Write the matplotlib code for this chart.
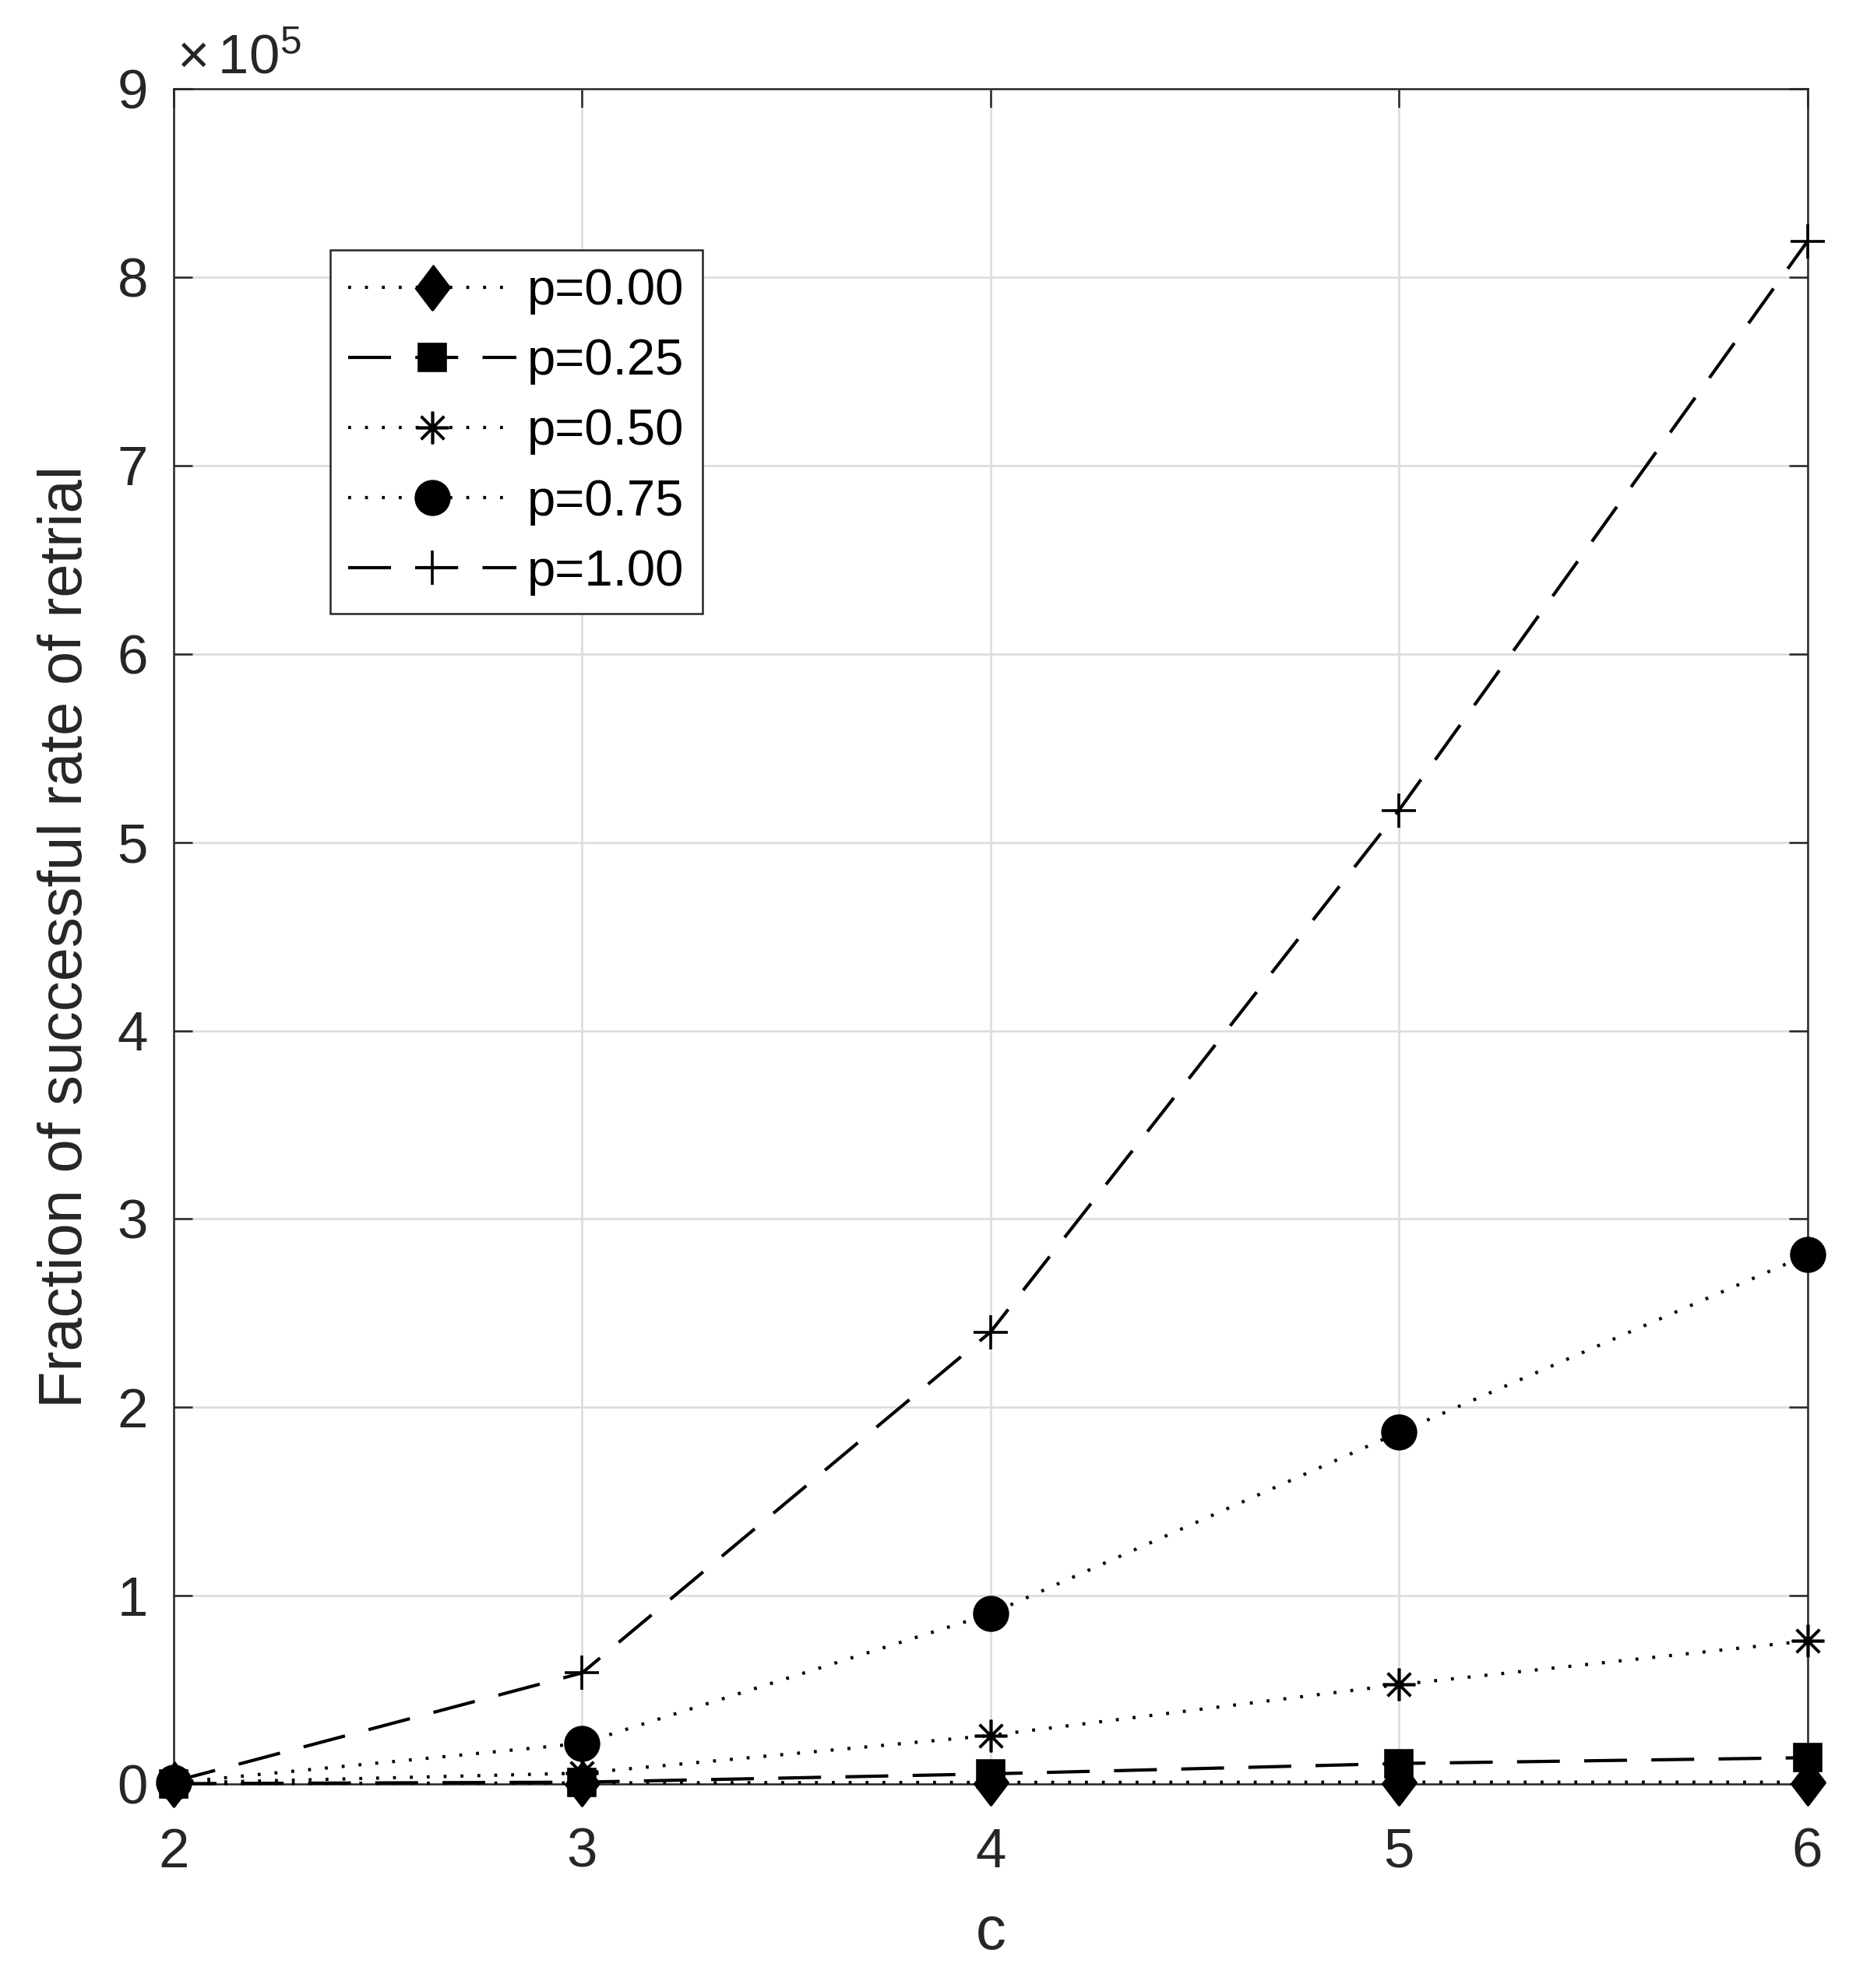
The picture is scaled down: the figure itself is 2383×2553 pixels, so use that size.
import numpy as np
import matplotlib
matplotlib.use("Agg")
import matplotlib.pyplot as plt
from matplotlib.ticker import FuncFormatter, FixedLocator

plt.rcParams['font.family'] = ['Liberation Sans', 'DejaVu Sans']
plt.rcParams['mathtext.default'] = 'regular'

# values
c_vals = [2, 3, 4, 5, 6]
p000 = [200, 600, 900, 1000, 1000]
p025 = [200, 1000, 5400, 10900, 14000]
p050 = [500, 5800, 25800, 52800, 76000]
p075 = [700, 21600, 90400, 186700, 281000]
p100 = [1400, 59000, 240000, 517000, 819000]
labels = ['p=0.00', 'p=0.25', 'p=0.50', 'p=0.75', 'p=1.00']

DARK = '#262626'
LW = 1.5
DOT = (0, (0.9, 4.3))
DASH = (0, (13.2, 7.5))
diamond = [(0, 1), (0.76, 0), (0, -1), (-0.76, 0)]

fig = plt.figure(figsize=(11.915, 12.765), dpi=200)
ax = fig.add_axes([0.0936, 0.1026, 0.8802, 0.8527])

series = [
    (p000, DOT, diamond, 20.5, 'k'),
    (p025, DASH, 's', 12.1, 'k'),
    (p050, DOT, (8, 2, 0), 15.0, 'none'),
    (p075, DOT, 'o', 15.4, 'k'),
    (p100, DASH, '+', 15.8, 'none'),
]
for (vals, ls, mk, ms, fc), lab in zip(series, labels):
    ax.plot(c_vals, vals, color='k', linestyle=ls, linewidth=LW,
            marker=mk, markersize=ms, markerfacecolor=fc,
            markeredgecolor='k', markeredgewidth=1.3,
            label=lab, clip_on=False, zorder=3)

ax.set_xlim(2, 6)
ax.set_ylim(0, 9e5)
ax.xaxis.set_major_locator(FixedLocator(c_vals))
ax.yaxis.set_major_locator(FixedLocator(np.arange(0, 10) * 1e5))
ax.yaxis.set_major_formatter(FuncFormatter(lambda v, pos: f"{v / 1e5:g}"))

ax.grid(True, color='#dedede', linewidth=1.0)
ax.set_axisbelow(True)
for sp in ax.spines.values():
    sp.set_color(DARK)
    sp.set_linewidth(0.9)

ax.tick_params(axis='both', direction='in', length=8.6, width=0.9,
               color=DARK, labelcolor=DARK, labelsize=25.5,
               top=True, right=True)
ax.tick_params(axis='x', pad=20)
ax.tick_params(axis='y', pad=11.9)

ax.set_xlabel('c', fontsize=28, color=DARK, labelpad=12)
ax.set_ylabel('Fraction of successful rate of retrial', fontsize=28,
              color=DARK, labelpad=10.5)

ax.text(0.002, 1 + 19 / 2177, r'$\times\,10^{5}$', transform=ax.transAxes,
        ha='left', va='baseline', fontsize=25.5, color=DARK)

leg = ax.legend(loc='upper left', bbox_to_anchor=(0.0957, 0.905),
                borderaxespad=0, fontsize=23.5, handlelength=3.3,
                handletextpad=0.22, labelspacing=0.46, borderpad=0.36,
                fancybox=False, framealpha=1, edgecolor=DARK)
leg.get_frame().set_linewidth(0.9)
for t in leg.get_texts():
    t.set_color('k')

fig.savefig('out.png', dpi=200)
